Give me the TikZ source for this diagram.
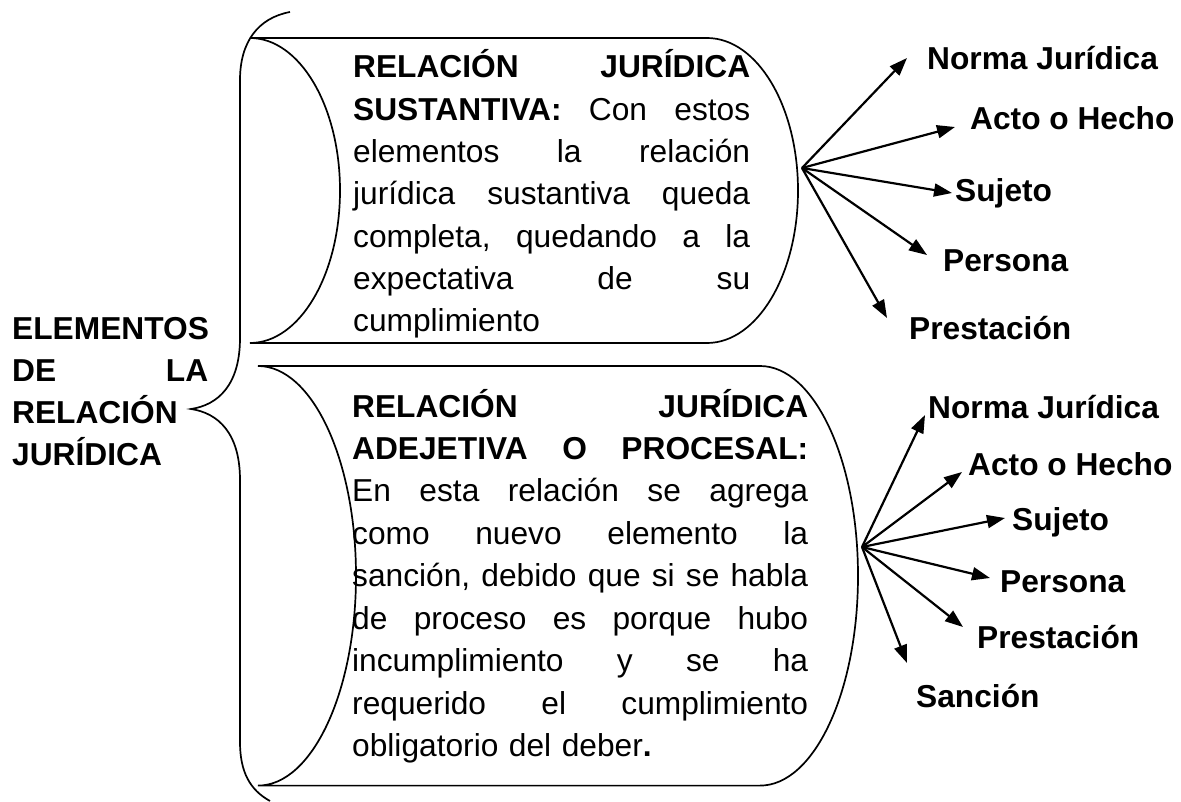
\documentclass[tikz,border=0pt]{standalone}
\usepackage{fontspec}
\setmainfont{Liberation Sans}
\usetikzlibrary{arrows.meta}
\newcommand\jl[2]{\makebox[#1][s]{#2}\\}
\begin{document}
\begin{tikzpicture}[x=1pt,y=-1pt,
  outline/.style={draw,line width=1.7pt},
  para/.style={inner sep=0pt,anchor=base west,align=left,font=\fontsize{31.7}{42.3}\selectfont},
  lbl/.style={inner sep=0pt,anchor=base west,font=\fontsize{31.7}{38}\selectfont\bfseries},
  arr/.style={line width=2.2pt,-{Triangle[length=18pt,width=13pt]}}]
\useasboundingbox (0,0) rectangle (1181,802);

% brace
\draw[outline] (290,12) .. controls (258,18) and (240,42) .. (240,80)
  -- (240,338) .. controls (240,385) and (218,405) .. (191,409)
  .. controls (218,413) and (240,433) .. (240,480)
  -- (240,742) .. controls (240,772) and (250,790) .. (270,801);

% shape 1
\draw[outline] (250,38) -- (707,38)
  arc[start angle=-90,end angle=90,x radius=91,y radius=152.5]
  -- (250,343)
  arc[start angle=90,end angle=-90,x radius=90,y radius=152.5] -- cycle;

% shape 2
\draw[outline] (258,366) -- (760,366)
  arc[start angle=-90,end angle=90,x radius=98,y radius=209.8]
  -- (258,785.6)
  arc[start angle=90,end angle=-90,x radius=98,y radius=209.8] -- cycle;

% left title
\node[para,font=\fontsize{31.7}{42}\selectfont\bfseries,text width=196pt] (title) at (12,340)
  {ELEMENTOS\\\jl{196pt}{DE\hfill LA}RELACIÓN\\JURÍDICA};

% paragraph 1
\node[para,text width=397pt] (p1) at (353,78)
  {\jl{397pt}{\textbf{RELACIÓN}\hfill\textbf{JURÍDICA}}%
   \jl{397pt}{\textbf{SUSTANTIVA:}\hfill Con\hfill estos}%
   \jl{397pt}{elementos\hfill la\hfill relación}%
   \jl{397pt}{jurídica\hfill sustantiva\hfill queda}%
   \jl{397pt}{completa,\hfill quedando\hfill a\hfill la}%
   \jl{397pt}{expectativa\hfill de\hfill su}%
   cumplimiento};

% paragraph 2
\node[para,text width=456pt,font=\fontsize{31.7}{42.5}\selectfont] (p2) at (352,417)
  {\jl{456pt}{\textbf{RELACIÓN}\hfill\textbf{JURÍDICA}}%
   \jl{456pt}{\textbf{ADEJETIVA}\hfill\textbf{O}\hfill\textbf{PROCESAL:}}%
   \jl{456pt}{En\hfill esta\hfill relación\hfill se\hfill agrega}%
   \jl{456pt}{como\hfill nuevo\hfill elemento\hfill la}%
   \jl{456pt}{sanción,\hfill debido\hfill que\hfill si\hfill se\hfill habla}%
   \jl{456pt}{de\hfill proceso\hfill es\hfill porque\hfill hubo}%
   \jl{456pt}{incumplimiento\hfill y\hfill se\hfill ha}%
   \jl{456pt}{requerido\hfill el\hfill cumplimiento}%
   obligatorio del deber\textbf{.}};

% top labels
\node[lbl] (a1) at (927,70) {Norma Jurídica};
\node[lbl] (a2) at (970,130) {Acto o Hecho};
\node[lbl] (a3) at (955,202) {Sujeto};
\node[lbl] (a4) at (943,272) {Persona};
\node[lbl] (a5) at (909,340) {Prestación};

% bottom labels
\node[lbl] (b1) at (928,418) {Norma Jurídica};
\node[lbl] (b2) at (968,475) {Acto o Hecho};
\node[lbl] (b3) at (1012,530) {Sujeto};
\node[lbl] (b4) at (1000,592) {Persona};
\node[lbl] (b5) at (977,648) {Prestación};
\node[lbl] (b6) at (916,707) {Sanción};

% arrow coordinates
\coordinate (o1) at (802,168);
\coordinate (ta1) at (907,58);
\coordinate (ta2) at (955,127);
\coordinate (ta3) at (952,193);
\coordinate (ta4) at (927,255);
\coordinate (ta5) at (887,318);
\coordinate (o2) at (862,547);
\coordinate (tb1) at (925,415);
\coordinate (tb2) at (962,472);
\coordinate (tb3) at (1005,518);
\coordinate (tb4) at (990,578);
\coordinate (tb5) at (963,627);
\coordinate (tb6) at (907,663);

\foreach \t in {ta1,ta2,ta3,ta4,ta5} \draw[arr] (o1) -- (\t);
\foreach \t in {tb1,tb2,tb3,tb4,tb5,tb6} \draw[arr] (o2) -- (\t);
\end{tikzpicture}
\end{document}
